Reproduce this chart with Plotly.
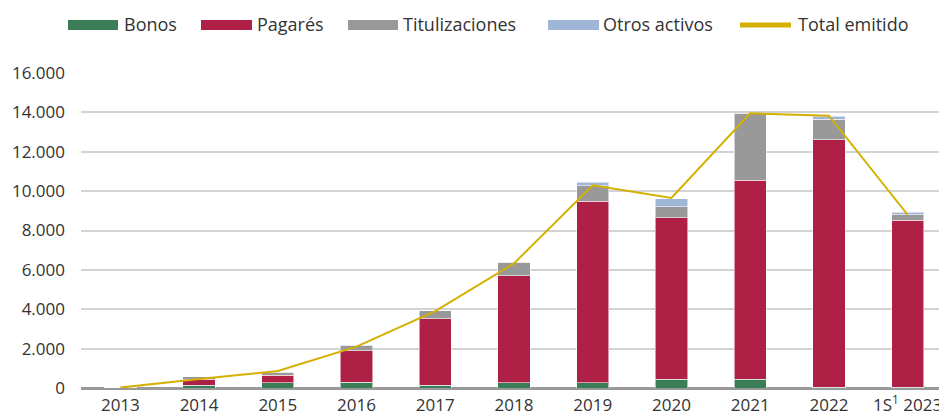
import plotly.graph_objects as go

categories = ["2013", "2014", "2015", "2016", "2017", "2018", "2019", "2020", "2021", "2022", "1S<sup>1</sup> 2023"]
bonos = [20, 150, 270, 300, 150, 270, 270, 450, 450, 50, 50]
pagares = [0, 290, 390, 1600, 3370, 5420, 9210, 8200, 10110, 12550, 8480]
titulizaciones = [0, 120, 150, 270, 410, 690, 800, 560, 3390, 1060, 270]
otros = [0, 0, 0, 0, 0, 0, 160, 410, 0, 150, 120]
total = [20, 460, 860, 2100, 3900, 6330, 10300, 9650, 13950, 13830, 8800]
y_ticks = [0, 2000, 4000, 6000, 8000, 10000, 12000, 14000, 16000]
series_names = ["Bonos", "Pagarés", "Titulizaciones", "Otros activos", "Total emitido"]
series_colors = ["#3b7d57", "#ae2046", "#999999", "#a0b6d7", "#d4b000"]

# the page body has an 8px margin, so the figure is drawn 8px in from the top-left
OFF = 8
W, H = 947 - OFF, 420 - OFF
L, R, T, B = 81 - OFF, 0, 73 - OFF, 32
PW, PH = W - L - R, H - T - B
font_family = "Open Sans, Noto Sans, sans-serif"
text_color = "#333333"
edge = dict(color="rgba(255,255,255,0.55)", width=1)

fig = go.Figure()
for name, vals, col in zip(series_names[:4], [bonos, pagares, titulizaciones, otros], series_colors[:4]):
    fig.add_trace(go.Bar(x=categories, y=vals, name=name,
                         marker=dict(color=col, line=edge), width=0.41))

fig.add_trace(go.Scatter(x=categories, y=total, name=series_names[4], mode="lines",
                         line=dict(color=series_colors[4], width=2)))

# custom legend (wide swatches as in the reference); coordinates in page pixels
def px_x(p):
    return (p - OFF - L) / PW

def px_y(p):
    return (H - B - (p - OFF)) / PH

swatch_x = [(68, 118), (201, 252), (348, 398), (548, 599), (738, 793)]
text_x = [124, 257, 403, 603, 798]
shapes = []
annotations = []
for i, (name, col) in enumerate(zip(series_names, series_colors)):
    x0, x1 = swatch_x[i]
    if i < 4:
        shapes.append(dict(type="rect", xref="paper", yref="paper",
                           x0=px_x(x0), x1=px_x(x1), y0=px_y(30), y1=px_y(20),
                           fillcolor=col, line=dict(width=0)))
    else:
        shapes.append(dict(type="line", xref="paper", yref="paper",
                           x0=px_x(x0 + 2), x1=px_x(x1 - 2), y0=px_y(25), y1=px_y(25),
                           line=dict(color=col, width=5)))
    annotations.append(dict(text=name, xref="paper", yref="paper",
                            x=px_x(text_x[i] - 2), y=px_y(24), xanchor="left", yanchor="middle",
                            showarrow=False, font=dict(size=18, color=text_color, family=font_family)))

fig.update_layout(
    barmode="stack",
    width=W, height=H,
    margin=dict(l=L, r=R, t=T, b=B, autoexpand=False),
    plot_bgcolor="white", paper_bgcolor="white",
    separators=",.",
    font=dict(family=font_family, size=17, color=text_color),
    showlegend=False,
    shapes=shapes,
    annotations=annotations,
)
fig.update_xaxes(showgrid=False, showline=False, ticks="", automargin=False,
                 tickfont=dict(size=17, color=text_color), ticklabelstandoff=5)
fig.update_yaxes(range=[0, 16000], tickvals=y_ticks, tickformat=",d", automargin=False,
                 showgrid=True, gridcolor="#d3d3d3", gridwidth=2,
                 zeroline=True, zerolinecolor="#999999", zerolinewidth=3,
                 ticks="", tickfont=dict(size=17, color=text_color), ticklabelstandoff=15)

fig.write_html("out.html")
